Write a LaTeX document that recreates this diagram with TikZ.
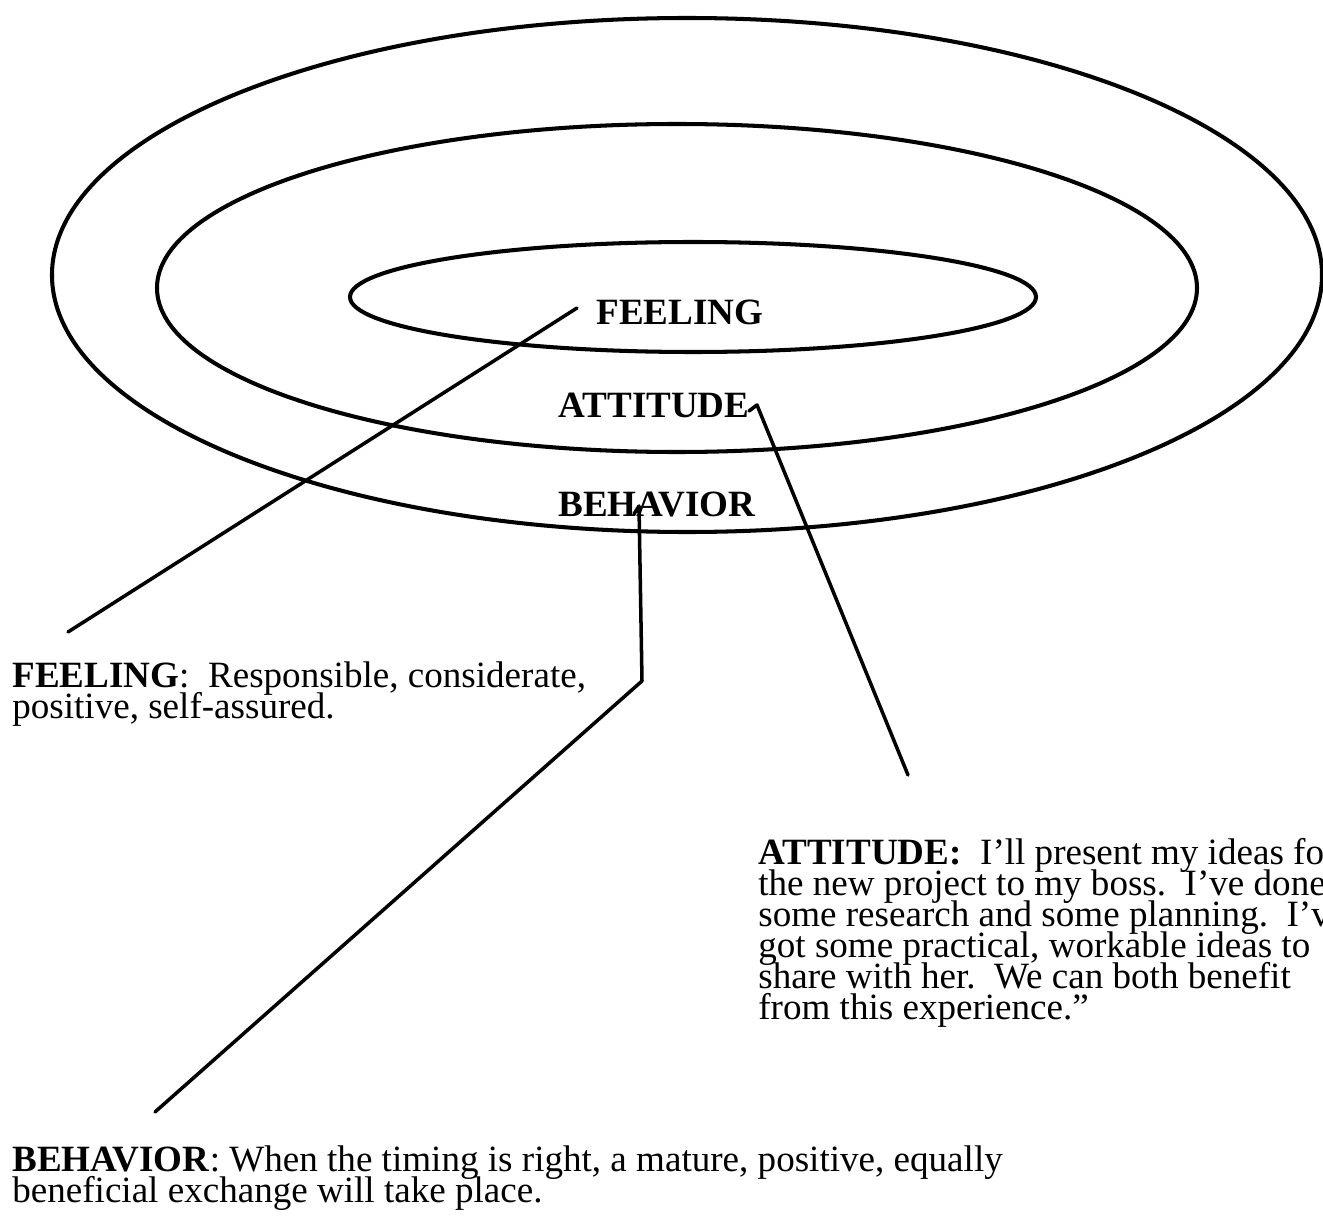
\documentclass[tikz,border=0pt]{standalone}
\usepackage{fontspec}
\setmainfont{Liberation Serif}
\newcommand\ringfont{\fontsize{21.1pt}{17.6pt}\selectfont\lineskiplimit=-100pt}

\begin{document}
\begin{tikzpicture}[x=0.2mm, y=-0.2mm,
  ring/.style={line width=2.3pt},
  lbl/.style={anchor=base, inner sep=0pt, font=\ringfont\bfseries},
  desc/.style={anchor=north west, inner sep=0pt, align=left, font=\ringfont},
  lead/.style={line width=2pt, line cap=round, line join=round}
]
\useasboundingbox (0,0) rectangle (1323,1217);

% the three rings
\draw[ring] (687,275) ellipse [x radius=12.7cm, y radius=5.14cm];
\draw[ring] (677,288) ellipse [x radius=10.4cm, y radius=3.28cm];
\draw[ring] (693,297) ellipse [x radius=6.86cm, y radius=1.1cm];

\node[lbl] (feel) at (680,325) {FEELING};
\node[lbl] (att) at (654,418) {ATTITUDE};
\node[lbl] (beh) at (657,517) {BEHAVIOR};

\node[desc] (feeldesc) at (12,661) {\textbf{FEELING}:~~Responsible, considerate,\\positive, self-assured.};
\node[desc] (attdesc) at (758,838) {\textbf{ATTITUDE:}~~I'll present my ideas for\\the new project to my boss.~~I've done\\some research and some planning.~~I've\\got some practical, workable ideas to\\share with her.~~We can both benefit\\from this experience."};
\node[desc] (behdesc) at (12,1145) {\textbf{BEHAVIOR}: When the timing is right, a mature, positive, equally\\beneficial exchange will take place.};

% leader lines
\coordinate (feelA) at (577,308);
\coordinate (feelB) at (68,632);
\coordinate (attA) at (749,411);
\coordinate (attK) at (757,405);
\coordinate (attB) at (908,775);
\coordinate (behA) at (634,514);
\coordinate (behK) at (639,506);
\coordinate (behM) at (642,681);
\coordinate (behB) at (155,1112);
\draw[lead] (feelA) -- (feelB);
\draw[lead] (attA) -- (attK) -- (attB);
\draw[lead] (behA) -- (behK) -- (behM) -- (behB);
\end{tikzpicture}
\end{document}
